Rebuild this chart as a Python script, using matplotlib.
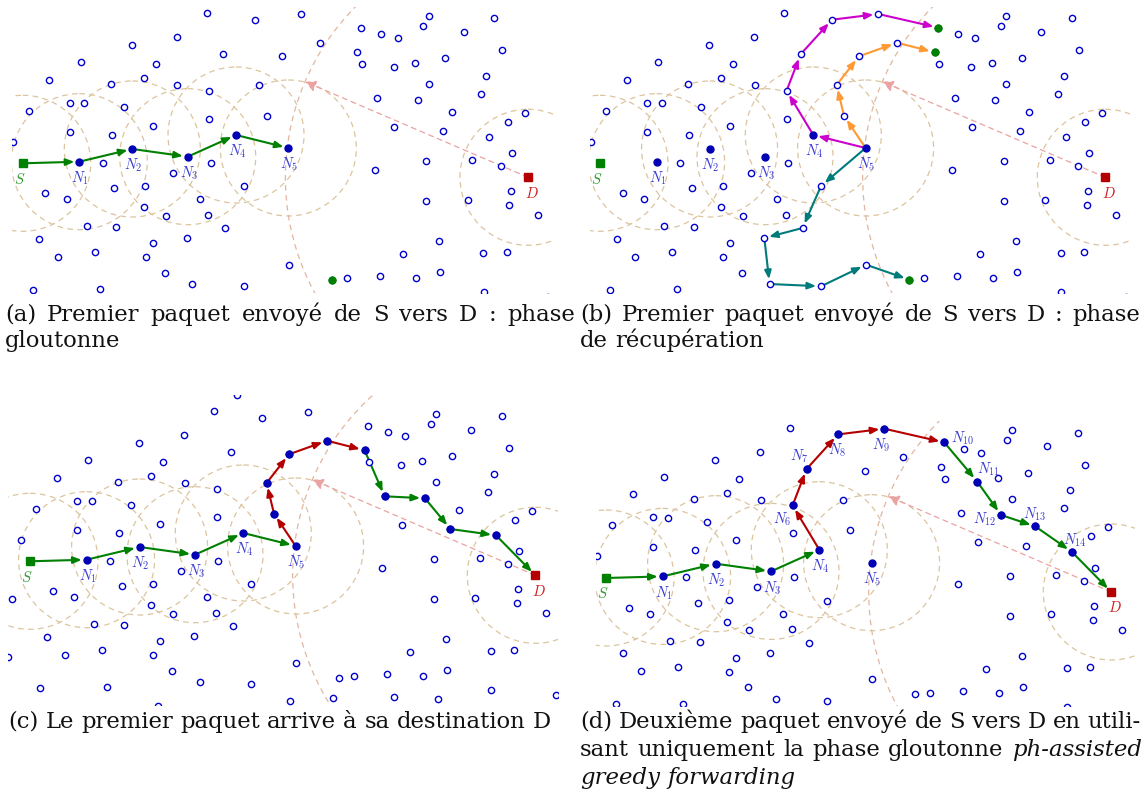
import numpy as np
import matplotlib.pyplot as plt
from matplotlib.patches import Circle

plt.rcParams['mathtext.fontset'] = 'cm'

W, H = 1148, 812

# relay nodes, in pixel units of panel (a)
relay_nodes = [
    (207.0, 14.3), (254.7, 20.7), (177.0, 38.0), (132.0, 46.3), (223.3, 55.3),
    (281.7, 57.3), (81.0, 63.3), (156.0, 65.0), (49.3, 80.7), (143.7, 79.3),
    (111.0, 85.0), (177.3, 86.0), (209.3, 91.7), (259.3, 86.0), (29.0, 111.7),
    (70.0, 103.7), (84.3, 104.3), (123.7, 108.0), (209.3, 119.7), (266.7, 116.7),
    (153.0, 126.7), (70.0, 133.3), (112.0, 136.3), (13.3, 142.7), (102.7, 163.7),
    (210.7, 163.7), (173.3, 173.7), (45.3, 194.3), (66.7, 200.0), (114.3, 189.0),
    (145.3, 186.7), (243.7, 187.0), (200.0, 200.0), (144.0, 208.0), (166.0, 216.7),
    (208.3, 215.7), (225.3, 229.0), (86.7, 227.3), (116.3, 228.3), (39.3, 239.7),
    (152.7, 244.0), (187.0, 239.0), (57.7, 257.7), (95.0, 253.3), (145.7, 258.3),
    (164.7, 273.7), (192.3, 285.0), (243.7, 287.3), (33.0, 290.7), (99.7, 290.0),
    (288.7, 265.7), (301.0, 15.0), (429.0, 16.7), (494.3, 19.0), (361.0, 28.7),
    (423.3, 26.7), (380.7, 35.0), (398.0, 39.0), (463.7, 32.7), (319.7, 43.7),
    (502.0, 51.0), (357.3, 53.3), (362.0, 65.0), (394.0, 68.0), (414.7, 64.3),
    (444.7, 59.0), (486.3, 76.7), (428.7, 85.0), (377.3, 99.3), (417.7, 101.3),
    (480.7, 94.7), (452.0, 112.7), (524.7, 113.7), (507.7, 122.7), (394.3, 128.0),
    (443.0, 132.0), (488.7, 138.3), (512.0, 154.3), (472.3, 161.0), (501.0, 167.3),
    (426.3, 162.3), (374.7, 170.7), (511.0, 192.3), (509.3, 206.0), (538.3, 216.0),
    (426.3, 202.3), (467.7, 200.7), (438.7, 242.0), (402.7, 255.3), (483.3, 254.0),
    (506.7, 253.0), (347.0, 279.0), (379.7, 277.3), (415.7, 279.0), (440.0, 273.0),
    (484.0, 293.3), (332.0, 280.7), (1.0, 260.3), (4.7, 201.7), (151.0, 308.7),
    (282.5, 303.7), (229.4, -2.5), (326.0, 301.0), (387.0, 300.3), (430.7, 302.3),
    (548.4, 297.7),
]

source = (22.7, 164.3)
dest = (528.0, 178.3)
greedy_path = [(22.7, 164.3), (79.3, 162.7), (132.3, 150.0), (187.7, 157.7),
               (236.0, 136.0), (288.3, 149.0)]
greedy_names = ['S', 'N_1', 'N_2', 'N_3', 'N_4', 'N_5']
radio_range = 68
void_point = (305.0, 82.7)   # where the pink hint from D meets the big circle

# recovery phase (b)
recov_magenta = [(288.3, 149.0), (236.0, 136.0), (209.3, 91.7), (223.3, 55.3),
                 (254.7, 20.7), (301.0, 15.0), (361.0, 28.7)]
recov_orange = [(288.3, 149.0), (266.7, 116.7), (259.3, 86.0), (281.7, 57.3),
                (319.7, 43.7), (357.3, 53.3)]
recov_teal = [(288.3, 149.0), (243.7, 187.0), (225.3, 229.0), (187.0, 239.0),
              (192.3, 285.0), (243.7, 287.3), (288.7, 265.7), (332.0, 280.7)]

# first packet arriving (c)
first_red = [(288.3, 149.0), (266.7, 116.7), (259.3, 86.0), (281.7, 57.3),
             (319.7, 43.7), (357.3, 53.3)]
first_green = [(357.3, 53.3), (377.3, 99.3), (417.7, 101.3), (443.0, 132.0),
               (488.7, 138.3), (528.0, 178.3)]

# second packet (d)
second_red = [(236.0, 136.0), (209.3, 91.7), (223.3, 55.3), (254.7, 20.7),
              (301.0, 15.0), (361.0, 28.7)]
second_green = [(361.0, 28.7), (394.0, 68.0), (417.7, 101.3), (452.0, 112.7),
                (488.7, 138.3), (528.0, 178.3)]
second_names = ['N_6', 'N_7', 'N_8', 'N_9', 'N_{10}', 'N_{11}', 'N_{12}', 'N_{13}', 'N_{14}']

# colours
C_OPEN = '#0000CC'
C_FILL = '#0000B4'
C_GREEN = '#008000'
C_RED = '#B40000'
C_MAG = '#CC00CC'
C_ORANGE = '#FF9933'
C_TEAL = '#007B7B'
C_RANGE = '#DCC49E'
C_ARC = '#E2B6A0'
C_HINT = '#EBA2A2'
C_LBL = '#3C3CD2'

fig = plt.figure(figsize=(W / 100, H / 100), dpi=100)


def panel_axes(ox, oy, x0, x1, y0, y1):
    ax = fig.add_axes([(ox + x0) / W, 1 - (oy + y1) / H, (x1 - x0) / W, (y1 - y0) / H])
    ax.set_xlim(x0, x1)
    ax.set_ylim(y1, y0)
    ax.axis('off')
    return ax


def arrows(ax, pts, color):
    for p0, p1 in zip(pts[:-1], pts[1:]):
        ax.annotate('', xy=p1, xytext=p0, zorder=4,
                    arrowprops=dict(arrowstyle='-|>,head_length=0.5,head_width=0.2',
                                    color=color, lw=1.5, shrinkA=0, shrinkB=3.5,
                                    mutation_scale=10))


def filled(ax, pts, color=C_FILL, size=5):
    xs, ys = zip(*pts)
    ax.plot(xs, ys, 'o', ms=size, color=color, mec=color, zorder=6, ls='none')


def label(ax, xy, name, dx=1, dy=15.5, color=C_LBL):
    ax.text(xy[0] + dx, xy[1] + dy, '$' + name + '$', color=color, fontsize=10.5,
            ha='center', va='center', zorder=7)


def base(ax, circles=True):
    if circles:
        for c in greedy_path + [dest]:
            ax.add_patch(Circle(c, radio_range, fill=False, ec=C_RANGE, lw=0.9,
                                ls=(0, (4.5, 3.5)), zorder=1))
    big_r = np.hypot(dest[0] - void_point[0], dest[1] - void_point[1])
    ax.add_patch(Circle(dest, big_r, fill=False, ec=C_ARC, lw=0.9,
                        ls=(0, (4.5, 3.5)), zorder=1))
    ax.annotate('', xy=void_point, xytext=dest, zorder=2,
                arrowprops=dict(arrowstyle='-|>,head_length=0.6,head_width=0.3',
                                color=C_HINT, lw=0.9, ls=(0, (4, 3.5)),
                                shrinkA=0, shrinkB=0, mutation_scale=11))
    xs, ys = zip(*relay_nodes)
    ax.plot(xs, ys, 'o', ms=4.5, mfc='white', mec=C_OPEN, mew=1.0, ls='none', zorder=5)
    ax.plot(*source, 's', ms=5.5, color=C_GREEN, zorder=6)
    ax.plot(*dest, 's', ms=5.5, color=C_RED, zorder=6)
    label(ax, source, 'S', dx=-3, dy=15, color='#2E9A2E')
    label(ax, dest, 'D', dx=4, dy=15, color='#CC2222')


# (a) greedy phase
ax = panel_axes(0, 0, 12, 553, 8, 294)
base(ax)
arrows(ax, greedy_path, C_GREEN)
filled(ax, greedy_path[1:])
filled(ax, [recov_teal[-1]], C_GREEN)
for p, n in zip(greedy_path[1:], greedy_names[1:]):
    label(ax, p, n)

# (b) recovery phase
ax = panel_axes(577.3, 0, 13, 552.5, 8, 294)
base(ax)
for pts, col in [(recov_magenta, C_MAG), (recov_orange, C_ORANGE), (recov_teal, C_TEAL)]:
    arrows(ax, pts, col)
    filled(ax, [pts[-1]], C_GREEN)
filled(ax, greedy_path[1:])
for p, n in zip(greedy_path[1:], greedy_names[1:]):
    label(ax, p, n)

# (c) first packet reaches D
ax = panel_axes(7.3, 398, 1, 551, -2, 307.5)
base(ax)
arrows(ax, greedy_path, C_GREEN)
arrows(ax, first_red, C_RED)
arrows(ax, first_green, C_GREEN)
filled(ax, greedy_path[1:] + first_red[1:] + first_green[1:-1])
for p, n in zip(greedy_path[1:], greedy_names[1:]):
    label(ax, p, n)

# (d) second packet, greedy only
ax = panel_axes(583.3, 414.7, 13, 551.4, 7.6, 292)
base(ax)
arrows(ax, greedy_path[:5], C_GREEN)
arrows(ax, second_red, C_RED)
arrows(ax, second_green, C_GREEN)
filled(ax, greedy_path[1:] + second_red[1:] + second_green[1:-1])
for p, n in zip(greedy_path[1:], greedy_names[1:]):
    label(ax, p, n)
d_offsets = [(-10, 13), (-7, -14), (-1, 15), (-3, 16), (18, -5), (11, -13),
             (-16, 3), (-1, -13), (3, -13)]
for p, n, (dx, dy) in zip(second_red[1:] + second_green[1:-1], second_names, d_offsets):
    label(ax, p, n, dx, dy)

# captions
cap = fig.add_axes([0, 0, 1, 1])
cap.set_xlim(0, W)
cap.set_ylim(H, 0)
cap.axis('off')
renderer = fig.canvas.get_renderer()
CAP_FONT = dict(family='DejaVu Serif', fontsize=16.4, va='baseline', ha='left',
                color='#111111')


def caption_line(parts, x0, y, x1=None):
    texts = [cap.text(x0, y, w, style=s, **CAP_FONT) for w, s in parts]
    widths = [t.get_window_extent(renderer).width for t in texts]
    probe = cap.text(0, 0, 'a a', **CAP_FONT)
    probe2 = cap.text(0, 0, 'aa', **CAP_FONT)
    gap = probe.get_window_extent(renderer).width - probe2.get_window_extent(renderer).width
    probe.remove()
    probe2.remove()
    if x1 is not None and len(parts) > 1:
        gap = (x1 - x0 - sum(widths)) / (len(parts) - 1)
    x = x0
    for t, w in zip(texts, widths):
        t.set_x(x)
        x += w + gap


def words(s, style='normal'):
    return [(w, style) for w in s.split()]


caption_line(words('(a) Premier paquet envoyé de S vers D : phase'), 5, 321, 575)
caption_line(words('gloutonne'), 5, 347)
caption_line(words('(b) Premier paquet envoyé de S vers D : phase'), 580, 321, 1140)
caption_line(words('de récupération'), 580, 347)
caption_line(words('(c) Le premier paquet arrive à sa destination D'), 8, 728)
caption_line(words('(d) Deuxième paquet envoyé de S vers D en utili-'), 580, 728, 1141)
caption_line(words('sant uniquement la phase gloutonne') + words('ph-assisted', 'italic'),
             580, 756, 1142)
caption_line(words('greedy forwarding', 'italic'), 580, 784)

fig.savefig('out.png', dpi=100)
